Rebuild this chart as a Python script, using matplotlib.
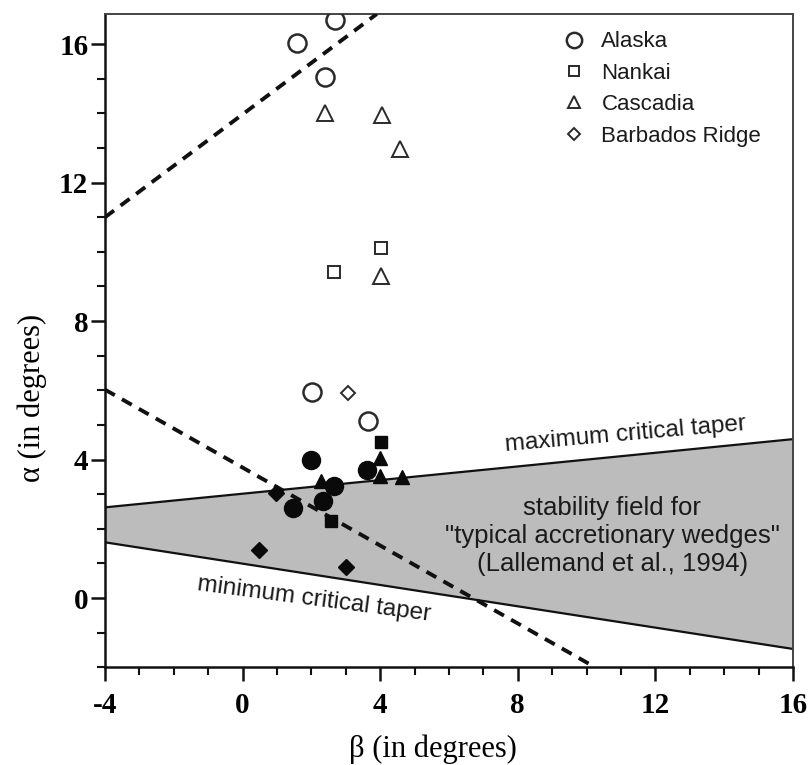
import matplotlib
matplotlib.use("Agg")
import matplotlib.pyplot as plt
from matplotlib.ticker import MultipleLocator

plt.rcParams['axes.unicode_minus'] = False

# ---- data (beta, alpha in degrees) ----
alaska_open_beta = [1.57, 2.69, 2.40, 2.01, 3.64]
alaska_open_alpha = [16.03, 16.70, 15.04, 5.96, 5.11]
alaska_fill_beta = [1.98, 3.63, 2.67, 2.33, 1.47]
alaska_fill_alpha = [3.99, 3.70, 3.23, 2.79, 2.60]

nankai_open_beta = [4.02, 2.67]
nankai_open_alpha = [10.10, 9.43]
nankai_fill_beta = [4.01, 2.56]
nankai_fill_alpha = [4.50, 2.24]

cascadia_open_beta = [2.40, 4.05, 4.58, 4.02]
cascadia_open_alpha = [14.02, 13.96, 12.96, 9.30]
cascadia_fill_beta = [3.99, 3.99, 4.64, 2.28]
cascadia_fill_alpha = [4.06, 3.54, 3.49, 3.37]

barbados_open_beta = [3.07]
barbados_open_alpha = [5.91]
barbados_fill_beta = [0.97, 0.49, 3.01]
barbados_fill_alpha = [3.03, 1.39, 0.91]

# critical taper envelope (beta end points, alpha values)
field_beta = [-4, 16]
max_taper_alpha = [2.62, 4.59]
min_taper_alpha = [1.61, -1.47]

# dashed lines
dash_upper_beta = [-4, 3.9]
dash_upper_alpha = [11.0, 16.87]
dash_lower_beta = [-4, 10.25]
dash_lower_alpha = [6.02, -2.0]

series_labels = ["Alaska", "Nankai", "Cascadia", "Barbados Ridge"]

# ---- figure ----
fig = plt.figure(figsize=(8.09, 7.65), dpi=100)
ax = fig.add_axes([0.1298, 0.1277, 0.8504, 0.854])
ax.set_xlim(-4, 16)
ax.set_ylim(-2, 16.87)

# shaded stability field
ax.fill_between(field_beta, min_taper_alpha, max_taper_alpha,
                color='#bcbcbc', zorder=1, linewidth=0)
ax.plot(field_beta, max_taper_alpha, color='#111111', lw=1.6, zorder=2)
ax.plot(field_beta, min_taper_alpha, color='#111111', lw=1.6, zorder=2)

# dashed lines
for bx, ay in [(dash_upper_beta, dash_upper_alpha), (dash_lower_beta, dash_lower_alpha)]:
    ax.plot(bx, ay, color='#111111', lw=2.8, dashes=(2.9, 2.1), zorder=3,
            solid_capstyle='butt', dash_capstyle='butt')

ec = '#2a2a2a'
# open markers
h1, = ax.plot(alaska_open_beta, alaska_open_alpha, 'o', ms=13, mfc='none', mec=ec, mew=1.8, zorder=4)
h2, = ax.plot(nankai_open_beta, nankai_open_alpha, 's', ms=8.5, mfc='none', mec=ec, mew=1.4, zorder=4)
h3, = ax.plot(cascadia_open_beta, cascadia_open_alpha, '^', ms=11, mfc='none', mec=ec, mew=1.4, zorder=4)
h4, = ax.plot(barbados_open_beta, barbados_open_alpha, 'D', ms=7.5, mfc='none', mec=ec, mew=1.4, zorder=4)

# filled markers
fc = '#0a0a0a'
ax.plot(alaska_fill_beta, alaska_fill_alpha, 'o', ms=13, color=fc, zorder=5)
ax.plot(nankai_fill_beta, nankai_fill_alpha, 's', ms=8, color=fc, zorder=5)
ax.plot(cascadia_fill_beta, cascadia_fill_alpha, '^', ms=10, color=fc, zorder=5)
ax.plot(barbados_fill_beta, barbados_fill_alpha, 'D', ms=8.5, color=fc, zorder=5)

# legend
leg = ax.legend([h1, h2, h3, h4], series_labels, loc='upper left',
                bbox_to_anchor=(0.636, 1.004), frameon=False,
                prop={'family': 'Liberation Sans', 'size': 16},
                handlelength=1.0, handletextpad=0.75, labelspacing=0.47,
                markerscale=0.85)
for t in leg.get_texts():
    t.set_color('#1a1a1a')

# annotations
sans = 'Liberation Sans'
ax.text(11.14, 4.71, "maximum critical taper", family=sans, fontsize=17.5,
        rotation=5.0, ha='center', va='center', color='#1a1a1a', zorder=6)
ax.text(2.09, -0.05, "minimum critical taper", family=sans, fontsize=17.5,
        rotation=-7.5, ha='center', va='center', color='#1a1a1a', zorder=6)
ax.text(10.75, 1.79, "stability field for\n\"typical accretionary wedges\"\n(Lallemand et al., 1994)",
        family=sans, fontsize=18.5, ha='center', va='center', linespacing=1.2,
        color='#1a1a1a', zorder=6)

# axes styling
for s in ['left', 'bottom']:
    ax.spines[s].set_linewidth(1.8)
    ax.spines[s].set_color('#111111')
for s in ['top', 'right']:
    ax.spines[s].set_linewidth(1.4)
    ax.spines[s].set_color('#444444')

ax.xaxis.set_major_locator(MultipleLocator(4))
ax.xaxis.set_minor_locator(MultipleLocator(1))
ax.yaxis.set_major_locator(MultipleLocator(4))
ax.yaxis.set_minor_locator(MultipleLocator(1))
ax.tick_params(which='major', direction='out', length=10, width=1.8,
               top=False, right=False, color='#111111')
ax.tick_params(axis='x', which='major', pad=8)
ax.tick_params(axis='y', which='major', pad=2)
ax.tick_params(which='minor', direction='out', length=6, width=1.5,
               top=False, right=False, color='#111111')

for lab in ax.get_xticklabels() + ax.get_yticklabels():
    lab.set_family('Liberation Serif')
    lab.set_fontweight('bold')
    lab.set_fontsize(21)

ax.set_xlabel("β (in degrees)", family='Liberation Serif', fontsize=22)
ax.set_ylabel("α (in degrees)", family='Liberation Serif', fontsize=22)
ax.xaxis.set_label_coords(0.477, -0.103)
ax.yaxis.set_label_coords(-0.085, 0.412)

fig.savefig("out.png", dpi=100)
